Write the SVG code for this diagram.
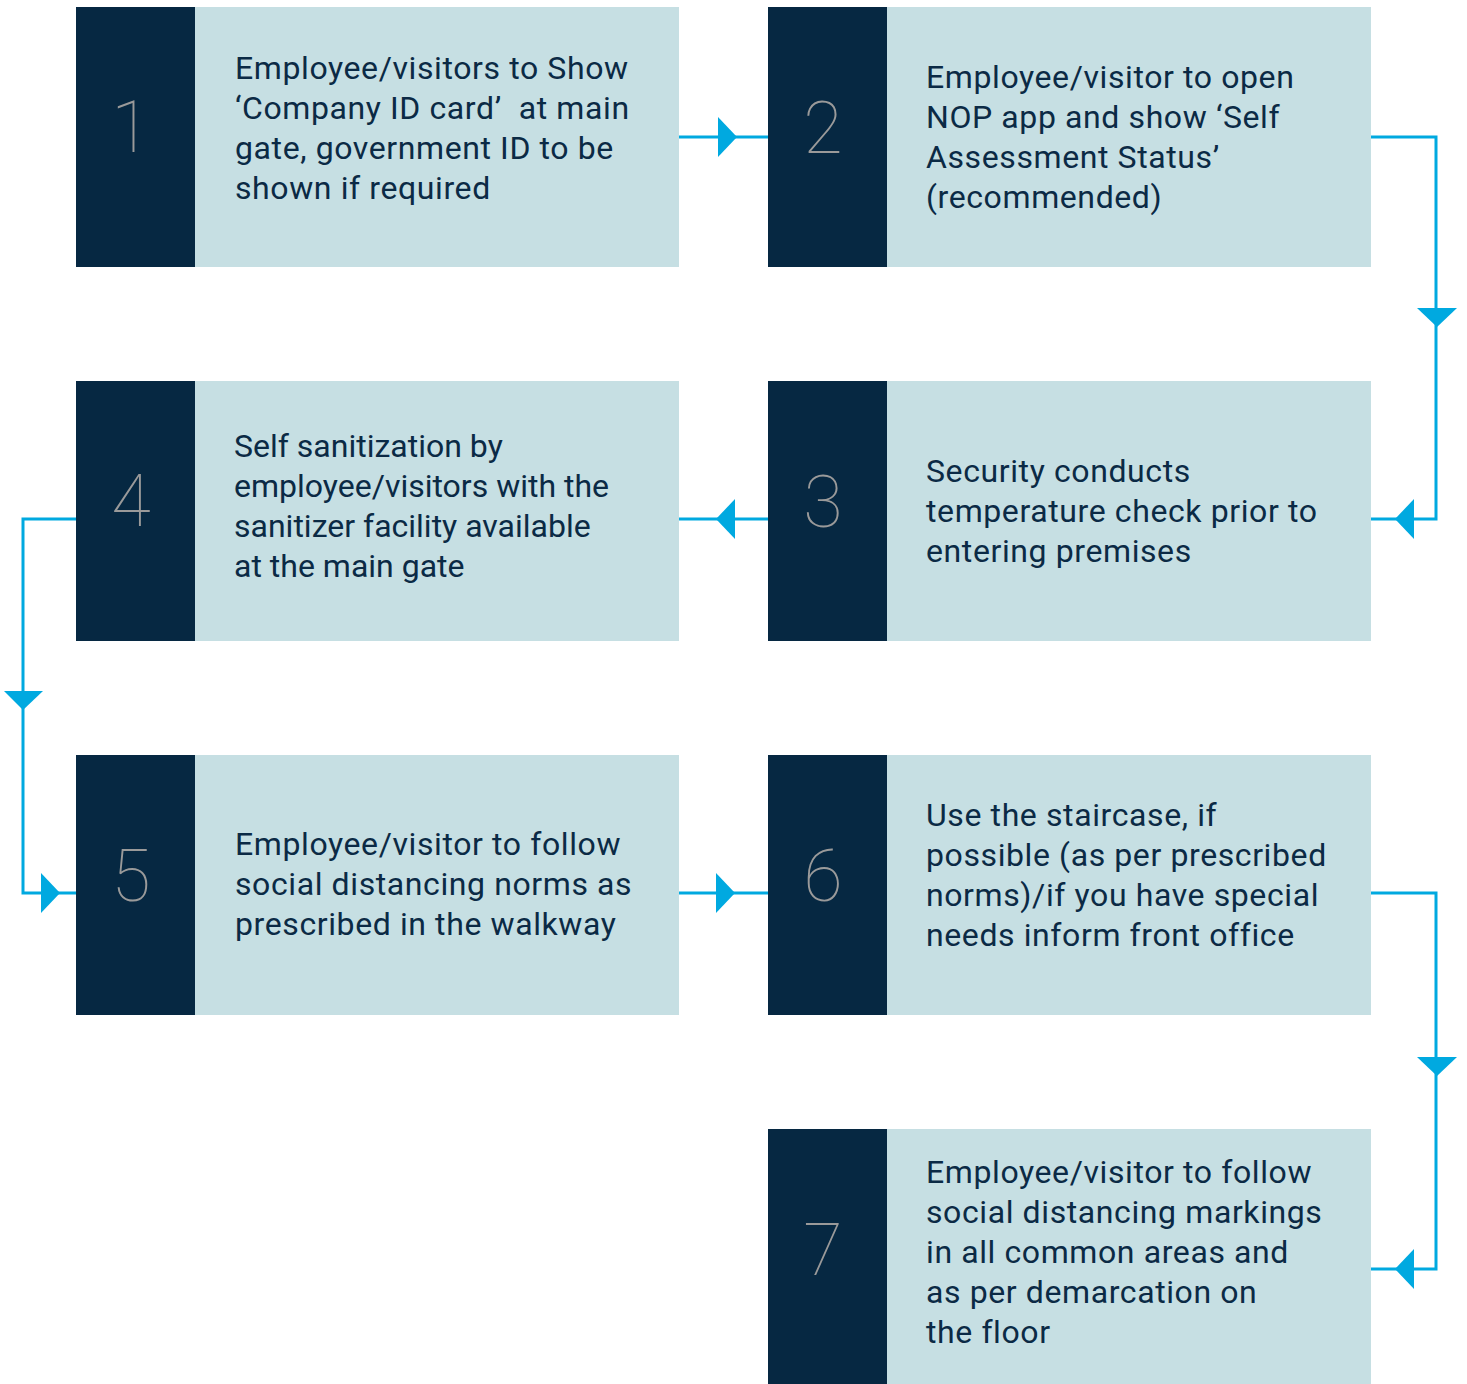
<svg xmlns="http://www.w3.org/2000/svg" width="1467" height="1384" viewBox="0 0 1467 1384">
<style>
.panel{fill:#c6dfe3}
.dark{fill:#062842}
.num{font-family:Roboto,"Liberation Sans",sans-serif;font-weight:100;font-size:72px;fill:#9a9a9a;text-anchor:middle}
.txt{font-family:Roboto,"Liberation Sans",sans-serif;font-size:32px;letter-spacing:0.6px;fill:#0b2a45}
.tight{letter-spacing:0px}
.ln{fill:none;stroke:#00a9e0;stroke-width:3}
.ah{fill:#00a9e0}
</style>
<rect width="1467" height="1384" fill="#ffffff"/>
<g id="connectors">
<path class="ln" d="M679,137H768"/>
<polygon class="ah" points="718,117 737,137 718,157"/>
<path class="ln" d="M1371,137H1436V519H1371"/>
<polygon class="ah" points="1417,308 1457,308 1437,327"/>
<polygon class="ah" points="1414,499 1395,519 1414,539"/>
<path class="ln" d="M768,519H679"/>
<polygon class="ah" points="735,499 716,519 735,539"/>
<path class="ln" d="M76,519H23V893H76"/>
<polygon class="ah" points="4,691 43,691 23,710"/>
<polygon class="ah" points="41,873 60,893 41,913"/>
<path class="ln" d="M679,893H768"/>
<polygon class="ah" points="716,873 735,893 716,913"/>
<path class="ln" d="M1371,893H1436V1269H1371"/>
<polygon class="ah" points="1417,1057 1457,1057 1437,1076"/>
<polygon class="ah" points="1414,1249 1395,1269 1414,1289"/>
</g>
<g id="node1">
<rect class="panel" x="76" y="7" width="603" height="260"/>
<rect class="dark" x="76" y="7" width="119" height="260"/>
<text class="num" x="131" y="152">1</text>
<text class="txt" x="235" y="79">Employee/visitors to Show</text>
<text class="txt" x="235" y="119">‘Company ID card’&#160; at main</text>
<text class="txt" x="235" y="159">gate, government ID to be</text>
<text class="txt" x="235" y="199">shown if required</text>
</g>
<g id="node2">
<rect class="panel" x="768" y="7" width="603" height="260"/>
<rect class="dark" x="768" y="7" width="119" height="260"/>
<text class="num" x="823" y="153">2</text>
<text class="txt" x="926" y="88">Employee/visitor to open</text>
<text class="txt" x="926" y="128">NOP app and show ‘Self</text>
<text class="txt" x="926" y="168">Assessment Status’</text>
<text class="txt" x="926" y="208">(recommended)</text>
</g>
<g id="node3">
<rect class="panel" x="768" y="381" width="603" height="260"/>
<rect class="dark" x="768" y="381" width="119" height="260"/>
<text class="num" x="823" y="527">3</text>
<text class="txt" x="926" y="482">Security conducts</text>
<text class="txt" x="926" y="522">temperature check prior to</text>
<text class="txt" x="926" y="562">entering premises</text>
</g>
<g id="node4">
<rect class="panel" x="76" y="381" width="603" height="260"/>
<rect class="dark" x="76" y="381" width="119" height="260"/>
<text class="num" x="131" y="526">4</text>
<text class="txt tight" x="234" y="457">Self sanitization by</text>
<text class="txt tight" x="234" y="497">employee/visitors with the</text>
<text class="txt tight" x="234" y="537">sanitizer facility available</text>
<text class="txt tight" x="234" y="577">at the main gate</text>
</g>
<g id="node5">
<rect class="panel" x="76" y="755" width="603" height="260"/>
<rect class="dark" x="76" y="755" width="119" height="260"/>
<text class="num" x="131" y="901">5</text>
<text class="txt" x="235" y="855">Employee/visitor to follow</text>
<text class="txt" x="235" y="895">social distancing norms as</text>
<text class="txt" x="235" y="935">prescribed in the walkway</text>
</g>
<g id="node6">
<rect class="panel" x="768" y="755" width="603" height="260"/>
<rect class="dark" x="768" y="755" width="119" height="260"/>
<text class="num" x="823" y="901">6</text>
<text class="txt" x="926" y="826">Use the staircase, if</text>
<text class="txt" x="926" y="866">possible (as per prescribed</text>
<text class="txt" x="926" y="906">norms)/if you have special</text>
<text class="txt" x="926" y="946">needs inform front office</text>
</g>
<g id="node7">
<rect class="panel" x="768" y="1129" width="603" height="255"/>
<rect class="dark" x="768" y="1129" width="119" height="255"/>
<text class="num" x="823" y="1275">7</text>
<text class="txt" x="926" y="1183">Employee/visitor to follow</text>
<text class="txt" x="926" y="1223">social distancing markings</text>
<text class="txt" x="926" y="1263">in all common areas and</text>
<text class="txt" x="926" y="1303">as per demarcation on</text>
<text class="txt" x="926" y="1343">the floor</text>
</g>
</svg>
